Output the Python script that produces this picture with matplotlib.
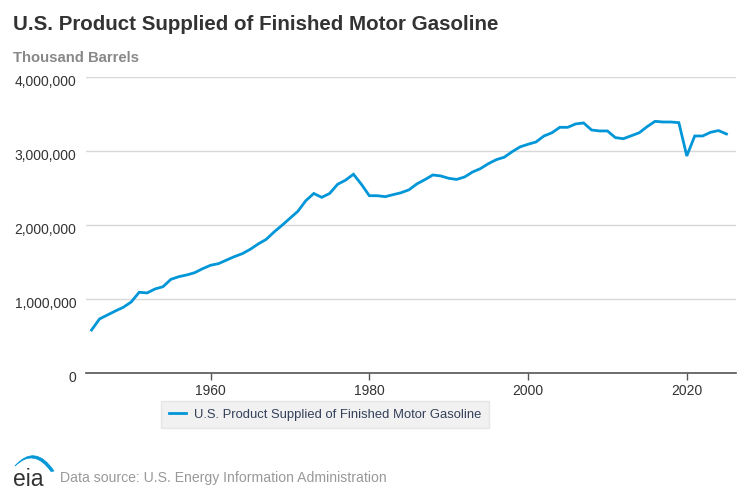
import matplotlib
matplotlib.use("Agg")
import matplotlib.pyplot as plt
import matplotlib.transforms as mtransforms
from matplotlib.patches import PathPatch
from matplotlib.path import Path
from matplotlib.ticker import FuncFormatter

years = list(range(1945, 2026))
values = [
    585000, 734000, 788000, 842000, 892000, 964000, 1095000, 1086000, 1140000, 1170000,
    1270000, 1306000, 1329000, 1360000, 1414000, 1460000, 1482000, 1530000, 1577000, 1617000,
    1676000, 1748000, 1810000, 1910000, 2000000, 2095000, 2190000, 2333000, 2430000, 2378000,
    2430000, 2554000, 2610000, 2690000, 2554000, 2400000, 2400000, 2387000, 2414000, 2440000,
    2480000, 2560000, 2617000, 2680000, 2667000, 2635000, 2620000, 2653000, 2720000, 2766000,
    2833000, 2887000, 2920000, 2995000, 3060000, 3095000, 3126000, 3207000, 3250000, 3324000,
    3324000, 3370000, 3383000, 3288000, 3275000, 3275000, 3185000, 3170000, 3210000, 3250000,
    3333000, 3405000, 3396000, 3396000, 3387000, 2937000, 3207000, 3207000, 3257000, 3280000,
    3234000,
]
x_ticks = [1960, 1980, 2000, 2020]
y_ticks = [0, 1000000, 2000000, 3000000, 4000000]

title = "U.S. Product Supplied of Finished Motor Gasoline"
units = "Thousand Barrels"
series_name = "U.S. Product Supplied of Finished Motor Gasoline"
source = "Data source: U.S. Energy Information Administration"

plt.rcParams['font.family'] = ['Liberation Sans', 'DejaVu Sans']

fig = plt.figure(figsize=(7.5, 4.99), dpi=100)
ax = fig.add_axes([86/750, 1 - 373.3/499, (736-86)/750, (373.3-77.3)/499])

line, = ax.plot(years, values, color='#0096d7', lw=2.0, solid_joinstyle='miter')
ax.set_xlim(1944.3, 2026.2)
ax.set_ylim(0, 4000000)
ax.set_xticks(x_ticks)
ax.set_yticks(y_ticks)
ax.yaxis.set_major_formatter(FuncFormatter(lambda v, p: f"{int(v):,}"))
ax.grid(axis='y', color='#d8d8d8', lw=1.0)
ax.set_axisbelow(True)
for s in ['top', 'right', 'left']:
    ax.spines[s].set_visible(False)
ax.spines['bottom'].set_color('#555555')
ax.spines['bottom'].set_linewidth(1.2)
ax.tick_params(axis='y', length=0, pad=7, labelsize=10, labelcolor='#333333')
ax.tick_params(axis='x', length=5, width=1, color='#555555', pad=3, labelsize=10, labelcolor='#333333')
offset = mtransforms.ScaledTranslation(0, -3/100, fig.dpi_scale_trans)
for lab in ax.get_yticklabels():
    lab.set_transform(lab.get_transform() + offset)

fig.text(13/750, 1 - 24/499, title, fontsize=14.8, fontweight='bold', color='#333333', va='center', ha='left')
fig.text(13/750, 1 - 57.5/499, units, fontsize=10.7, fontweight='bold', color='#888888', va='center', ha='left')

leg = ax.legend([line], [series_name], loc='center', bbox_to_anchor=(325/750, 1 - 414.5/499),
                bbox_transform=fig.transFigure, frameon=True, fontsize=9.4, handlelength=1.3,
                handletextpad=0.6, borderpad=0.6, fancybox=False)
leg.get_frame().set_facecolor('#eeeeee')
leg.get_frame().set_edgecolor('#e2e2e2')
for t in leg.get_texts():
    t.set_color('#34405a')

fig.text(60/750, 1 - 478/499, source, fontsize=10.1, color='#999999', va='center', ha='left')

# logo
logo_ax = fig.add_axes([0, 0, 120/750, 59/499])
logo_ax.set_xlim(0, 120)
logo_ax.set_ylim(499, 440)
logo_ax.axis('off')
logo_ax.text(13.5, 485.5, "eia", fontsize=16.5, color='#333333', va='baseline', ha='left')
verts = [(15, 466), (35, 443), (54, 471), (51, 471.5), (34, 447.5), (15, 466), (15, 466)]
codes = [Path.MOVETO, Path.CURVE3, Path.CURVE3, Path.LINETO, Path.CURVE3, Path.CURVE3, Path.CLOSEPOLY]
logo_ax.add_patch(PathPatch(Path(verts, codes), facecolor='#0096d7', edgecolor='#0096d7', lw=0.5))

fig.savefig("out.png", dpi=100)
